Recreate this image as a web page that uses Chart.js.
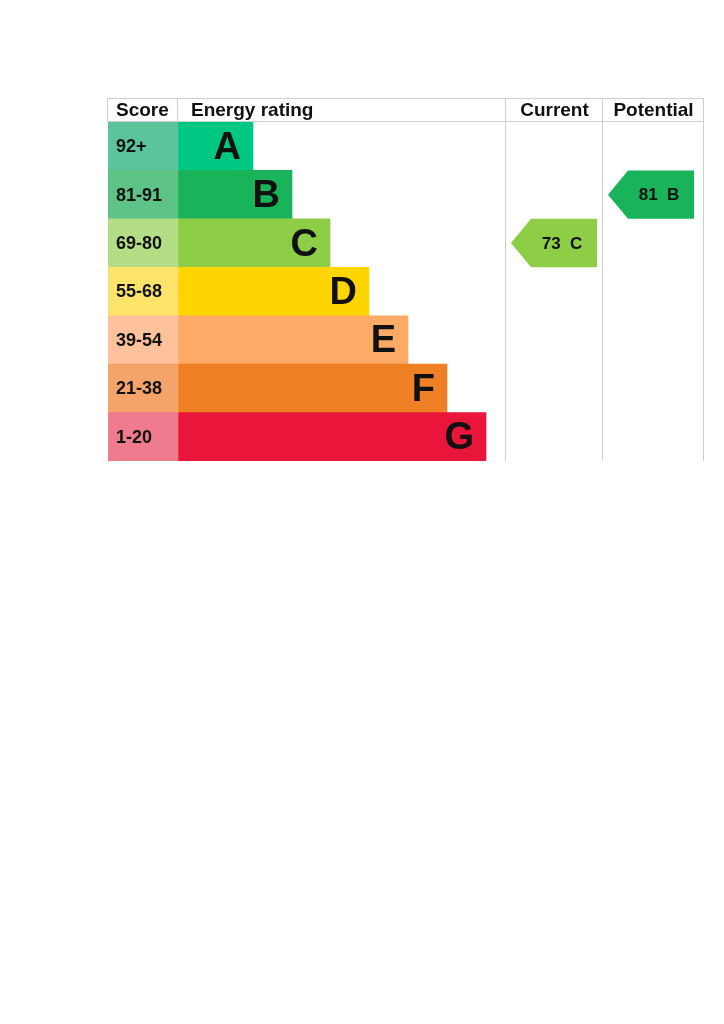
<!DOCTYPE html>
<html>
<head>
<meta charset="utf-8">
<script src="https://cdn.jsdelivr.net/npm/chart.js@4/dist/chart.umd.min.js"></script>
<style>
    html, body { margin: 0; padding: 0; background: #ffffff; }
    #epcChart { display: block; }
</style>
</head>
<body>
<canvas id="epcChart" width="724" height="1024"></canvas>
<script>
const bands = ['A', 'B', 'C', 'D', 'E', 'F', 'G'];
const scoreRanges = ['92+', '81-91', '69-80', '55-68', '39-54', '21-38', '1-20'];
const bandLengths = [75, 114, 152, 191, 230, 269, 308];
const bandColors = ['#00c781', '#19b459', '#8dce46', '#ffd500', '#fcaa65', '#ef8023', '#e9153b'];
const scoreColors = ['#5cc49c', '#5ec387', '#b3de86', '#fde36a', '#fdc19b', '#f4a46b', '#f07a8e'];
const headers = ['Score', 'Energy rating', 'Current', 'Potential'];
const currentRating = { score: 73, band: 'C' };
const potentialRating = { score: 81, band: 'B' };

// column edges in x-scale units (0 = left edge of table)
const columnEdges = [0, 70, 398, 495, 596];
const scoreWidth = columnEdges[1];

const FONT = '"Liberation Sans", Arial, sans-serif';
const LINE = '#cfcfcf';

const epcPlugin = {
    id: 'epcTable',
    afterDatasetsDraw(chart) {
        const { ctx, chartArea, scales } = chart;
        const x = scales.x;
        const y = scales.y;
        const headerTop = chartArea.top - 24;

        ctx.save();

        // grid lines
        ctx.strokeStyle = LINE;
        ctx.lineWidth = 1;
        ctx.beginPath();
        ctx.moveTo(chartArea.left, headerTop + 0.5);
        ctx.lineTo(chartArea.right, headerTop + 0.5);
        ctx.moveTo(chartArea.left, chartArea.top - 0.5);
        ctx.lineTo(chartArea.right, chartArea.top - 0.5);
        columnEdges.forEach((edge, i) => {
            const px = Math.round(x.getPixelForValue(edge)) - 0.5;
            const bottom = (i <= 1) ? chartArea.top : chartArea.bottom;
            ctx.moveTo(px, headerTop);
            ctx.lineTo(px, bottom);
        });
        ctx.stroke();

        // header texts
        ctx.fillStyle = '#111111';
        ctx.font = 'bold 19px ' + FONT;
        ctx.textBaseline = 'middle';
        const headerMid = (headerTop + chartArea.top) / 2 + 1;
        ctx.textAlign = 'left';
        ctx.fillText(headers[0], x.getPixelForValue(columnEdges[0]) + 8, headerMid);
        ctx.fillText(headers[1], x.getPixelForValue(columnEdges[1]) + 13, headerMid);
        ctx.textAlign = 'center';
        ctx.fillText(headers[2], (x.getPixelForValue(columnEdges[2]) + x.getPixelForValue(columnEdges[3])) / 2, headerMid);
        ctx.fillText(headers[3], (x.getPixelForValue(columnEdges[3]) + x.getPixelForValue(columnEdges[4])) / 2, headerMid);

        // score range labels
        ctx.textAlign = 'left';
        ctx.font = 'bold 18px ' + FONT;
        scoreRanges.forEach((label, i) => {
            ctx.fillText(label, x.getPixelForValue(0) + 8, y.getPixelForValue(i) + 1);
        });

        // band letters at the end of each bar
        ctx.textAlign = 'right';
        ctx.font = 'bold 38px ' + FONT;
        chart.getDatasetMeta(1).data.forEach((bar, i) => {
            ctx.fillText(bands[i], bar.x - 12, bar.y + 2);
        });

        // current / potential arrows
        const drawArrow = (rating, colLeft) => {
            const idx = bands.indexOf(rating.band);
            const meta = chart.getDatasetMeta(1).data[idx];
            const half = meta.height / 2;
            const cy = y.getPixelForValue(idx);
            const tip = x.getPixelForValue(colLeft) + 5;
            const right = tip + 86;
            const shoulder = tip + 20;
            ctx.fillStyle = bandColors[idx];
            ctx.beginPath();
            ctx.moveTo(tip, cy);
            ctx.lineTo(shoulder, cy - half);
            ctx.lineTo(right, cy - half);
            ctx.lineTo(right, cy + half);
            ctx.lineTo(shoulder, cy + half);
            ctx.closePath();
            ctx.fill();
            ctx.fillStyle = '#111111';
            ctx.font = 'bold 17px ' + FONT;
            ctx.textAlign = 'center';
            ctx.fillText(rating.score + '  ' + rating.band, (shoulder + right) / 2 - 2, cy + 1);
        };
        drawArrow(currentRating, columnEdges[2]);
        drawArrow(potentialRating, columnEdges[3]);

        ctx.restore();
    },
};

new Chart(document.getElementById('epcChart'), {
    type: 'bar',
    data: {
        labels: bands,
        datasets: [
            {
                label: 'Score',
                data: bands.map(() => scoreWidth),
                backgroundColor: scoreColors,
                borderWidth: 0,
                barPercentage: 1,
                categoryPercentage: 1,
            },
            {
                label: 'Energy rating',
                data: bandLengths,
                backgroundColor: bandColors,
                borderWidth: 0,
                barPercentage: 1,
                categoryPercentage: 1,
            },
        ],
    },
    options: {
        indexAxis: 'y',
        responsive: false,
        animation: false,
        events: [],
        layout: {
            padding: { left: 108, right: 20, top: 122, bottom: 563 },
        },
        plugins: {
            legend: { display: false },
            tooltip: { enabled: false },
        },
        scales: {
            x: { stacked: true, min: 0, max: 596, display: false },
            y: { stacked: true, display: false },
        },
    },
    plugins: [epcPlugin],
});
</script>
</body>
</html>
